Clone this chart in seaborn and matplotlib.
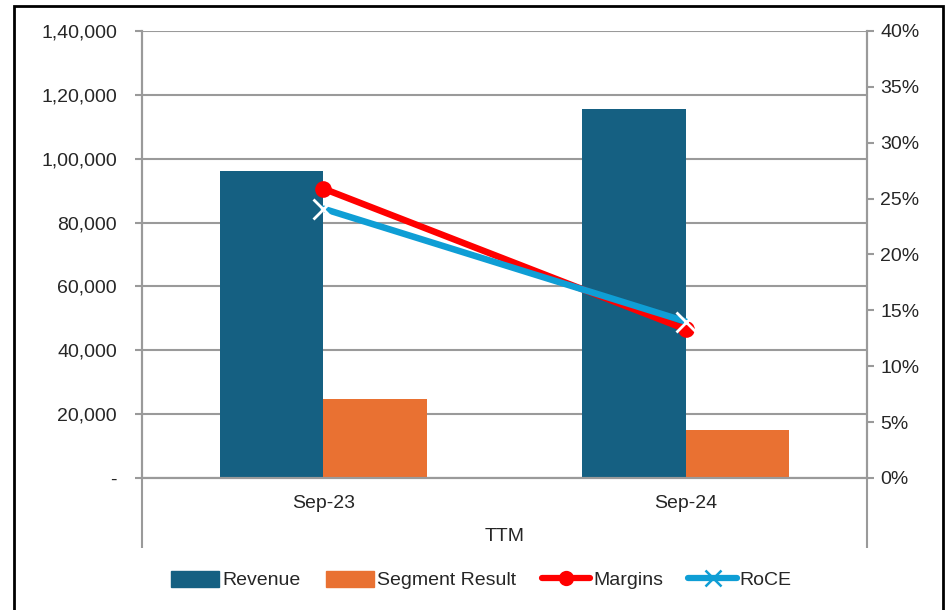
import matplotlib
matplotlib.use("Agg")
import matplotlib.pyplot as plt
import matplotlib.patches as mpatches
from matplotlib.lines import Line2D
from matplotlib.ticker import FuncFormatter, MultipleLocator, FixedLocator
import pandas as pd
import seaborn as sns

periods = ["Sep-23", "Sep-24"]
revenue = [96200, 115600]
segment_result = [24700, 15000]
margins = [0.259, 0.133]
roce = [0.241, 0.140]

left_ticks = [0, 20000, 40000, 60000, 80000, 100000, 120000, 140000]
left_labels = ["-", "20,000", "40,000", "60,000", "80,000", "1,00,000", "1,20,000", "1,40,000"]

BAR_COLORS = {"Revenue": "#156082", "Segment Result": "#E97132"}
LINE_COLORS = {"Margins": "#FF0000", "RoCE": "#0F9ED5"}
GRID = "#9a9a9a"
FS = 14

sns.set_theme(style="white")
plt.rcParams["font.family"] = ["Liberation Sans", "DejaVu Sans"]

bars = pd.DataFrame({
    "period": periods * 2,
    "series": ["Revenue"] * 2 + ["Segment Result"] * 2,
    "value": revenue + segment_result,
})

fig = plt.figure(figsize=(9.51, 6.10), dpi=100)
ax = fig.add_axes([0.1493, 0.2164, 0.7624, 0.7328])

sns.barplot(data=bars, x="period", y="value", hue="series", palette=BAR_COLORS,
            width=0.57, saturation=1, linewidth=0, ax=ax, legend=False, zorder=2)
ax.set_xlim(-0.5, 1.5)
ax.set_ylim(0, 140000)
ax.yaxis.set_major_locator(FixedLocator(left_ticks))
ax.set_yticklabels(left_labels)
ax.grid(axis="y", color=GRID, lw=1.5, zorder=0)
ax.set_axisbelow(True)

ax2 = ax.twinx()
sns.lineplot(x=periods, y=margins, color=LINE_COLORS["Margins"], marker="o",
             lw=4.7, markersize=12, markeredgewidth=0, ax=ax2, sort=False)
sns.lineplot(x=periods, y=roce, color=LINE_COLORS["RoCE"], marker="x",
             lw=4.7, markersize=14, markeredgewidth=2.0, ax=ax2, sort=False)
ax2.set_xlim(-0.5, 1.5)
ax2.set_ylim(0, 0.40)
ax2.yaxis.set_major_locator(MultipleLocator(0.05))
ax2.yaxis.set_major_formatter(FuncFormatter(lambda v, p: f"{v * 100:.0f}%"))
ax2.set_ylabel("")

for a in (ax, ax2):
    a.spines["top"].set_visible(False)
    for side in ("left", "right", "bottom"):
        a.spines[side].set_color(GRID)
        a.spines[side].set_linewidth(1.5)

ax.set_xlabel("TTM", fontsize=FS, labelpad=12)
ax.set_ylabel("")
ax.tick_params(axis="x", labelsize=FS, length=7, color=GRID, width=1.5, pad=5, direction="out")
ax.xaxis.set_minor_locator(FixedLocator([0.5]))
ax.tick_params(axis="x", which="minor", length=7, color=GRID, width=1.5, direction="out")
ax.tick_params(axis="y", labelsize=FS, length=5, color=GRID, width=1.5, pad=13, left=True)
ax2.tick_params(axis="y", labelsize=FS, length=5, color=GRID, width=1.5, pad=4.5, right=True)

# multi-level category frame lines below the axis
for xpos in (0, 1):
    ax.plot([xpos, xpos], [0, -0.157], transform=ax.transAxes, color=GRID,
            lw=1.5, clip_on=False, solid_capstyle="butt")

handles = [
    mpatches.Patch(color=BAR_COLORS["Revenue"], label="Revenue"),
    mpatches.Patch(color=BAR_COLORS["Segment Result"], label="Segment Result"),
    Line2D([], [], color=LINE_COLORS["Margins"], lw=4.5, marker="o", markersize=11,
           markeredgewidth=0, label="Margins"),
    Line2D([], [], color=LINE_COLORS["RoCE"], lw=4.5, marker="x", markersize=12,
           markeredgewidth=1.8, label="RoCE"),
]
fig.legend(handles=handles, loc="center", bbox_to_anchor=(0.506, 0.049), ncol=4,
           frameon=False, fontsize=FS, handlelength=2.5, handleheight=0.9,
           columnspacing=1.3, handletextpad=0.15)

fig.add_artist(mpatches.Rectangle((0.0147, -0.01), 0.977, 1.0, transform=fig.transFigure,
                                  fill=False, edgecolor="black", lw=2))

fig.savefig("out.png", dpi=100)
